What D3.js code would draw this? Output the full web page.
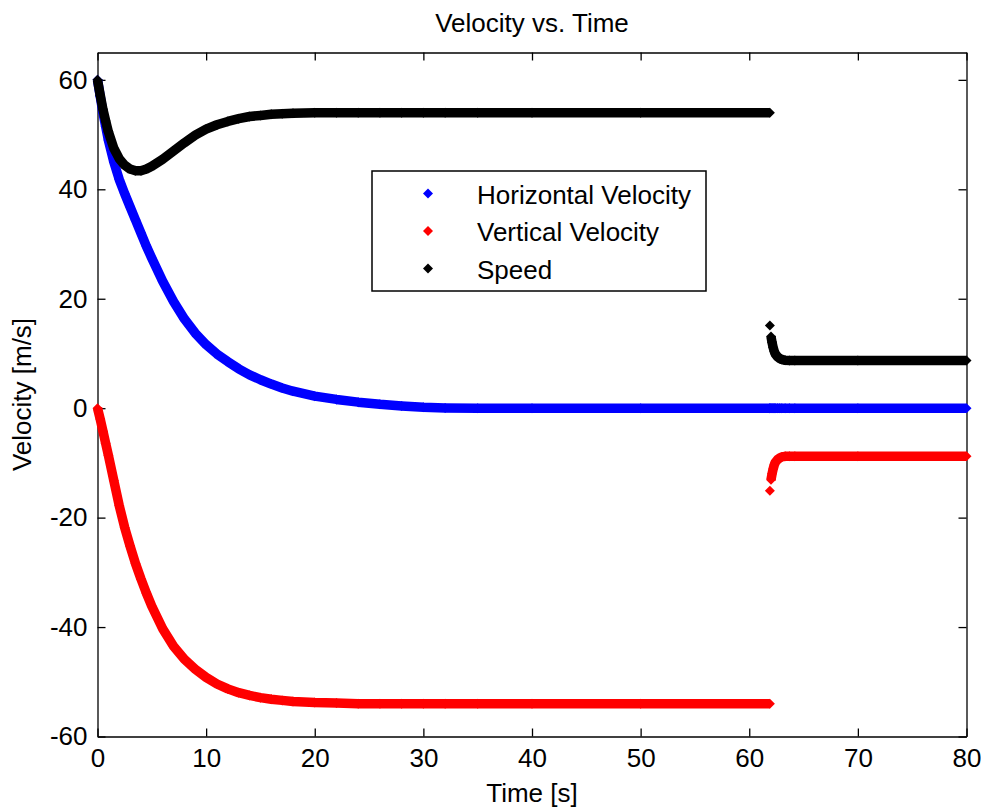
<!DOCTYPE html>
<html>
<head>
<meta charset="utf-8">
<script src="https://cdn.jsdelivr.net/npm/d3@7"></script>
<style>
  body { margin: 0; background: #fff; }
  svg { display: block; }
  text { font-family: "Liberation Sans", Arial, sans-serif; fill: #000; }
</style>
</head>
<body>
<svg width="981" height="810"></svg>
<script>
// flight phase (before release)
const timeFlight = [0, 0.25, 0.5, 0.75, 1, 1.5, 2, 2.5, 3, 3.5, 4, 4.5, 5, 6, 7, 8, 9, 10, 11, 12, 13, 14, 15, 16, 17, 18, 20, 22, 24, 26, 28, 30, 32, 35, 40, 50, 61.9];
const horizontalFlight = [60, 57, 54, 51.5, 49, 45, 41.8, 39.2, 36.8, 34.4, 32, 29.6, 27.4, 23.2, 19.5, 16.3, 13.7, 11.6, 9.9, 8.5, 7.2, 6.1, 5.2, 4.4, 3.7, 3.1, 2.2, 1.6, 1.1, 0.7, 0.4, 0.15, 0.05, 0, 0, 0, 0];
const verticalFlight = [0, -2, -4.2, -6.4, -8.6, -13.2, -17.8, -21.8, -25.2, -28.4, -31.2, -33.8, -36.2, -40.3, -43.5, -45.9, -47.7, -49.2, -50.4, -51.3, -52, -52.5, -52.9, -53.2, -53.4, -53.6, -53.8, -53.9, -54, -54, -54, -54, -54, -54, -54, -54, -54];
const speedFlight = [60, 57.2, 54.6, 52.5, 50.5, 47.5, 45.6, 44.4, 43.7, 43.4, 43.4, 43.7, 44.2, 45.5, 47, 48.5, 49.9, 51, 51.8, 52.4, 52.9, 53.3, 53.5, 53.7, 53.8, 53.9, 54, 54, 54, 54, 54, 54, 54, 54, 54, 54, 54];

// release sample
const timeRelease = [61.9];
const horizontalRelease = [0];
const verticalRelease = [-15.1];
const speedRelease = [15.1];

// descent phase
const timeDescent = [62.0, 62.1, 62.2, 62.3, 62.4, 62.6, 62.8, 63.0, 63.3, 63.7, 64.2, 70, 80];
const horizontalDescent = [0, 0, 0, 0, 0, 0, 0, 0, 0, 0, 0, 0, 0];
const verticalDescent = [-13.1, -12.0, -11.1, -10.4, -9.9, -9.4, -9.1, -8.9, -8.8, -8.8, -8.8, -8.8, -8.8];
const speedDescent = [13.1, 12.0, 11.1, 10.4, 9.9, 9.4, 9.1, 8.9, 8.75, 8.7, 8.7, 8.7, 8.7];

const xTicks = [0, 10, 20, 30, 40, 50, 60, 70, 80];
const xTickLabels = ["0", "10", "20", "30", "40", "50", "60", "70", "80"];
const yTicks = [-60, -40, -20, 0, 20, 40, 60];
const yTickLabels = ["-60", "-40", "-20", "0", "20", "40", "60"];

const seriesNames = ["Horizontal Velocity", "Vertical Velocity", "Speed"];
const seriesColors = ["#0000ff", "#ff0000", "#000000"];

const plot = { left: 97.5, right: 966.5, top: 52.5, bottom: 736.5 };
const fontSize = 26;

const svg = d3.select("svg");

const x = d3.scaleLinear().domain([0, 80]).range([plot.left, plot.right]);
const y = d3.scaleLinear().domain([-60, 65]).range([plot.bottom, plot.top]);

function styleAxis(g) {
  g.attr("font-size", fontSize).attr("font-family", null);
  g.select(".domain").attr("stroke", "#000").attr("stroke-width", 1.3);
  g.selectAll(".tick line").attr("stroke", "#000").attr("stroke-width", 1.3);
}

svg.append("g")
  .attr("transform", `translate(0,${plot.bottom})`)
  .call(d3.axisBottom(x).tickValues(xTicks)
    .tickFormat(d => xTickLabels[xTicks.indexOf(d)])
    .tickSizeInner(-8).tickSizeOuter(0).tickPadding(12))
  .call(styleAxis);

svg.append("g")
  .attr("transform", `translate(0,${plot.top})`)
  .call(d3.axisTop(x).tickValues(xTicks).tickFormat("")
    .tickSizeInner(-8).tickSizeOuter(0))
  .call(styleAxis);

svg.append("g")
  .attr("transform", `translate(${plot.left},0)`)
  .call(d3.axisLeft(y).tickValues(yTicks)
    .tickFormat(d => yTickLabels[yTicks.indexOf(d)])
    .tickSizeInner(-8).tickSizeOuter(0).tickPadding(10))
  .call(styleAxis);

svg.append("g")
  .attr("transform", `translate(${plot.right},0)`)
  .call(d3.axisRight(y).tickValues(yTicks).tickFormat("")
    .tickSizeInner(-8).tickSizeOuter(0))
  .call(styleAxis);

// titles
svg.append("text")
  .attr("x", (plot.left + plot.right) / 2).attr("y", 32)
  .attr("text-anchor", "middle").attr("font-size", fontSize)
  .text("Velocity vs. Time");

svg.append("text")
  .attr("x", (plot.left + plot.right) / 2).attr("y", 802)
  .attr("text-anchor", "middle").attr("font-size", fontSize)
  .text("Time [s]");

svg.append("text")
  .attr("transform", `translate(31,${(plot.top + plot.bottom) / 2}) rotate(-90)`)
  .attr("text-anchor", "middle").attr("font-size", fontSize)
  .text("Velocity [m/s]");

// series
const zip = (ts, vs) => ts.map((t, i) => ({ t, v: vs[i] }));

const horizontalAll = zip(timeFlight, horizontalFlight)
  .concat(zip(timeRelease, horizontalRelease), zip(timeDescent, horizontalDescent));

const series = [
  { color: seriesColors[0], paths: [horizontalAll], points: horizontalAll },
  {
    color: seriesColors[1],
    paths: [zip(timeFlight, verticalFlight), zip(timeDescent, verticalDescent)],
    points: zip(timeFlight, verticalFlight).concat(zip(timeRelease, verticalRelease), zip(timeDescent, verticalDescent))
  },
  {
    color: seriesColors[2],
    paths: [zip(timeFlight, speedFlight), zip(timeDescent, speedDescent)],
    points: zip(timeFlight, speedFlight).concat(zip(timeRelease, speedRelease), zip(timeDescent, speedDescent))
  }
];

const line = d3.line().x(d => x(d.t)).y(d => y(d.v));
const diamond = "M0,-5L5,0L0,5L-5,0Z";

series.forEach(s => {
  const g = svg.append("g");
  g.selectAll("path.band")
    .data(s.paths)
    .enter().append("path")
    .attr("class", "band")
    .attr("d", line)
    .attr("fill", "none")
    .attr("stroke", s.color)
    .attr("stroke-width", 9.5)
    .attr("stroke-linejoin", "round");
  g.selectAll("path.mark")
    .data(s.points)
    .enter().append("path")
    .attr("class", "mark")
    .attr("d", diamond)
    .attr("transform", d => `translate(${x(d.t)},${y(d.v)})`)
    .attr("fill", s.color);
});

// legend
const legend = svg.append("g");
legend.append("rect")
  .attr("x", 372).attr("y", 171).attr("width", 334).attr("height", 120)
  .attr("fill", "#fff").attr("stroke", "#000").attr("stroke-width", 1.5);

seriesNames.forEach((name, i) => {
  const cy = 193.5 + i * 37.5;
  legend.append("path")
    .attr("d", diamond)
    .attr("transform", `translate(428,${cy})`)
    .attr("fill", seriesColors[i]);
  legend.append("text")
    .attr("x", 477).attr("y", cy + 10)
    .attr("font-size", fontSize)
    .text(name);
});
</script>
</body>
</html>
